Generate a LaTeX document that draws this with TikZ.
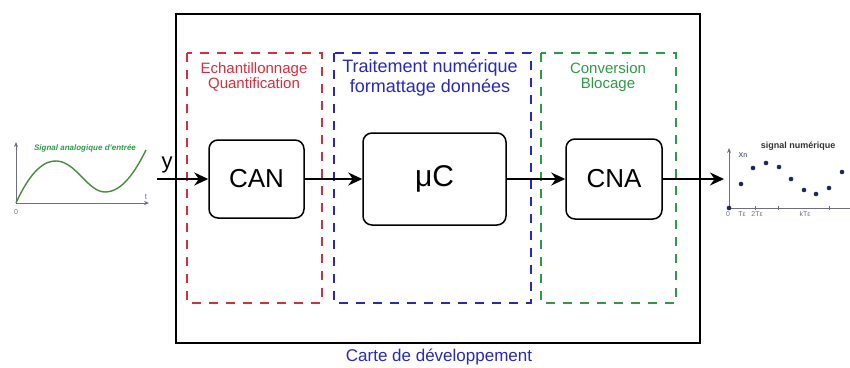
\documentclass[tikz,border=0pt]{standalone}
\usepackage{fontspec}
\setmainfont{Liberation Sans}
\usetikzlibrary{arrows.meta}
\definecolor{cred}{RGB}{215,45,60}
\definecolor{cblue}{RGB}{40,40,190}
\definecolor{cgreen}{RGB}{45,155,70}
\definecolor{cgreencurve}{RGB}{70,140,60}
\definecolor{caxis}{RGB}{110,110,130}
\definecolor{cdot}{RGB}{30,40,90}
\tikzset{
  blockbox/.style={draw=black, line width=1.5pt, rounded corners=9pt, fill=white, inner sep=0pt},
  zonebox/.style={line width=1.8pt, dash pattern=on 9pt off 8pt},
  sig/.style={-{Stealth[length=14pt,width=13pt]}, line width=1.6pt},
  ax/.style={caxis, line width=0.8pt, -{Stealth[length=5pt,width=4pt]}},
  fs/.style={font=\fontsize{#1}{#1}\selectfont},
  lbl/.style={anchor=base, inner sep=0pt}
}
\begin{document}
\begin{tikzpicture}[x=1pt,y=-1pt]
\useasboundingbox (0,0) rectangle (850,367);
% outer board
\draw[line width=2pt] (176,14) rectangle (700,343);
\node[cblue, fs=17] (carte) at (439,357) {Carte de développement};
% zones
\draw[zonebox, cred] (187,53) rectangle (322,303);
\draw[zonebox, cblue] (334,53) rectangle (531,303);
\draw[zonebox, cgreen] (541,53) rectangle (676,303);
\node[lbl, cred, fs=15] (zq1) at (254,73) {Echantillonnage};
\node[lbl, cred, fs=15] (zq2) at (254,88) {Quantification};
\node[lbl, cblue, fs=18] (zt1) at (430,72) {Traitement numérique};
\node[lbl, cblue, fs=18] (zt2) at (430,92) {formattage données};
\node[lbl, cgreen, fs=15] (zc1) at (608,73) {Conversion};
\node[lbl, cgreen, fs=15] (zc2) at (608,88) {Blocage};
% blocks
\node[blockbox, minimum width=95pt, minimum height=78pt, fs=26] (can) at (256.5,179) {CAN};
\node[blockbox, minimum width=143pt, minimum height=92pt, fs=30] (uc) at (434.5,179) {μC};
\node[blockbox, minimum width=96pt, minimum height=80pt, fs=26] (cna) at (614,179) {CNA};
\coordinate (in) at (157,179);
\coordinate (out) at (724,179);
\draw[sig] (in) -- (can.west);
\draw[sig] (can.east) -- (uc.west);
\draw[sig] (uc.east) -- (cna.west);
\draw[sig] (cna.east) -- (out);
\node[fs=22, anchor=base] (ylab) at (167,168) {y};
% input analog signal
\draw[ax] (16,203) -- (16,142);
\draw[ax] (16,203) -- (149,203);
\node[caxis, fs=7] (o1) at (16,212) {0};
\node[caxis, fs=8] (t1) at (146,197) {t};
\draw[cgreencurve, line width=1.4pt] (16,203) .. controls (30,172) and (44,160) .. (57,161) .. controls (76,162) and (88,192) .. (105,192) .. controls (122,192) and (135,172) .. (146,150);
\node[cgreen, font={\fontsize{8}{8}\selectfont\bfseries\itshape}] (ts1) at (85,148) {Signal analogique d'entrée};
% output digital signal
\draw[ax] (729,208) -- (729,148);
\draw[caxis, line width=0.8pt] (729,208) -- (850,208);
\foreach \xx in {755,778,829} \draw[caxis, line width=0.6pt] (\xx,206) -- (\xx,210);
\fill[cdot] (729,208) circle (2.3pt);
\foreach \xx/\yy in {741/184,753/168,766/163,779/167,791/179,804/190,816/194,829/188,842/172}
  \fill[cdot] (\xx,\yy) circle (2.3pt);
\node[cdot, fs=7] (xn) at (743,155) {Xn};
\node[black!80, font={\fontsize{9}{9}\selectfont\bfseries}] (ts2) at (798,146) {signal numérique};
\node[caxis, fs=7] (l0) at (728,214) {0};
\node[caxis, fs=7] (l1) at (742,214) {Tε};
\node[caxis, fs=7] (l2) at (757,214) {2Tε};
\node[caxis, fs=7] (l3) at (805,214) {kTε};
\end{tikzpicture}
\end{document}
